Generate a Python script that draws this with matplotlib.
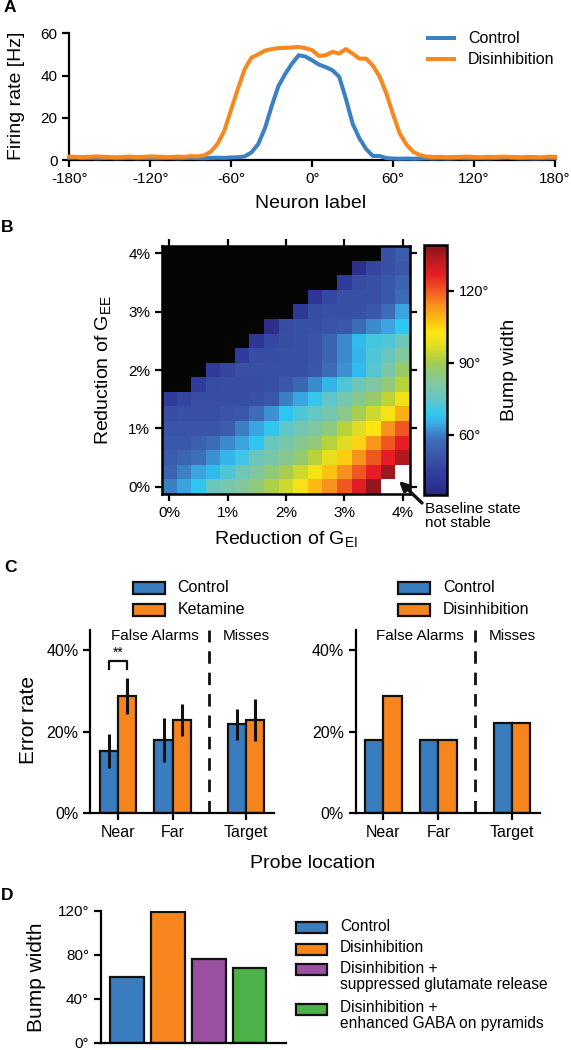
import numpy as np
import matplotlib
matplotlib.use("Agg")
import matplotlib.pyplot as plt
from matplotlib.colors import LinearSegmentedColormap
from matplotlib.patches import Rectangle
from matplotlib.lines import Line2D

plt.rcParams['font.family'] = ['Liberation Sans', 'DejaVu Sans']
plt.rcParams['mathtext.fontset'] = 'custom'
plt.rcParams['mathtext.rm'] = 'Liberation Sans'
plt.rcParams['axes.linewidth'] = 1.6
for a in ('xtick', 'ytick'):
    plt.rcParams[a + '.major.width'] = 1.6
    plt.rcParams[a + '.major.size'] = 5
    plt.rcParams[a + '.labelsize'] = 10.5

# ---------------- data ----------------
# Panel A: firing rate profiles (Hz) sampled every 5 degrees
neuron_deg = list(range(-180, 181, 5))
rate_control = [1.0, 1.1, 0.9, 1.0, 0.8, 0.9, 1.0, 0.8, 0.9, 1.0, 0.8, 0.9, 0.9,
                0.8, 0.9, 1.0, 0.8, 0.9, 1.0, 0.9, 0.8, 1.0, 1.1, 1.0, 1.2, 1.3,
                1.7, 3.6, 7.5, 15.0, 25.5, 35.0, 40.7, 45.6, 49.6, 49.0, 47.2,
                45.2, 44.0, 42.5, 39.5, 29.0, 17.2, 10.3, 5.2, 1.9, 1.9, 0.9,
                0.7, 0.6, 0.7, 0.6, 0.7, 0.8, 0.7, 0.8, 0.7, 0.8, 0.9, 0.8, 0.8,
                0.9, 0.8, 0.9, 1.0, 1.1, 0.9, 0.8, 0.8, 0.7, 0.8, 0.8, 0.9]
rate_disinh = [1.6, 1.5, 1.4, 1.5, 1.7, 1.5, 1.4, 1.3, 1.5, 1.6, 1.4, 1.5, 1.7,
               1.6, 1.5, 1.4, 1.6, 1.5, 1.8, 1.7,
               2.2, 4.0, 7.8, 14.0, 24.0, 33.8, 43.0, 48.5, 50.0, 51.8,
               52.5, 53.0, 53.1, 53.3, 53.5, 53.0, 52.0, 49.3, 49.6, 51.2,
               50.4, 52.5, 50.4, 48.0, 48.0, 44.7, 39.5, 31.5, 21.5, 12.5,
               7.2, 3.8, 2.3, 1.6,
               1.4, 1.5, 1.3, 1.4, 1.5, 1.6, 1.4, 1.3, 1.5, 1.4, 1.6, 1.5,
               1.4, 1.3, 1.5, 1.4, 1.3, 1.6, 1.5]
a_xticks = [-180, -120, -60, 0, 60, 120, 180]
a_yticks = [0, 20, 40, 60]

# Panel B: bump width (deg); rows = reduction of G_EE 0%..4%, cols = reduction of G_EI 0%..4%
# 0 = no bump (black), nan = baseline state not stable (white)
nan = np.nan
bump_grid = [
    [60, 64, 68, 76, 79, 82, 86, 91, 95, 101, 108, 114, 120, 128, 137, nan, nan],
    [55, 60, 64, 67, 72, 77, 81, 86, 90, 95, 101, 107, 114, 120, 127, 136, nan],
    [53, 55, 58, 62, 66, 70, 77, 80, 83, 87, 92, 98, 106, 114, 120, 127, 134],
    [52, 52, 54, 57, 61, 64, 68, 76, 79, 83, 86, 92, 97, 105, 113, 120, 127],
    [51, 51, 51, 51, 53, 60, 64, 68, 74, 78, 81, 85, 92, 97, 103, 114, 120],
    [49, 50, 50, 50, 51, 52, 57, 62, 68, 72, 75, 79, 84, 90, 95, 101, 110],
    [43, 46, 49, 49, 49, 49, 50, 52, 60, 64, 69, 74, 79, 83, 88, 93, 100],
    [0, 0, 43, 48, 49, 49, 49, 50, 52, 56, 61, 66, 72, 77, 81, 86, 92],
    [0, 0, 0, 43, 46, 50, 50, 50, 50, 50, 52, 57, 62, 67, 73, 80, 88],
    [0, 0, 0, 0, 0, 43, 48, 49, 50, 50, 51, 55, 61, 66, 72, 76, 82],
    [0, 0, 0, 0, 0, 0, 41, 47, 49, 50, 51, 55, 61, 67, 71, 72, 77],
    [0, 0, 0, 0, 0, 0, 0, 38, 48, 50, 50, 51, 52, 57, 61, 64, 68],
    [0, 0, 0, 0, 0, 0, 0, 0, 0, 42, 49, 50, 50, 50, 52, 57, 64],
    [0, 0, 0, 0, 0, 0, 0, 0, 0, 0, 41, 47, 50, 50, 50, 52, 57],
    [0, 0, 0, 0, 0, 0, 0, 0, 0, 0, 0, 0, 43, 48, 50, 52, 55],
    [0, 0, 0, 0, 0, 0, 0, 0, 0, 0, 0, 0, 0, 38, 46, 50, 52],
    [0, 0, 0, 0, 0, 0, 0, 0, 0, 0, 0, 0, 0, 0, 0, 50, 53],
]
b_ticks = [0, 1, 2, 3, 4]
b_ticklabels = ['0%', '1%', '2%', '3%', '4%']
cb_ticks = [60, 90, 120]

# Panel C
probe_cats = ['Near', 'Far', 'Target']
exp_control = [15.2, 18.0, 21.8]
exp_control_err = [4.2, 5.4, 3.8]
exp_ketamine = [28.8, 22.8, 22.8]
exp_ketamine_err = [4.5, 3.9, 5.2]
model_control = [18.0, 18.0, 22.0]
model_disinh = [28.7, 18.0, 22.0]
c_yticks = [0, 20, 40]

# Panel D
d_labels = ['Control', 'Disinhibition', 'Disinhibition +\nsuppressed glutamate release',
            'Disinhibition +\nenhanced GABA on pyramids']
d_values = [60.2, 119.0, 76.4, 67.7]
d_yticks = [0, 40, 80, 120]

# ---------------- styling ----------------
BLUE = '#3a7dbf'
ORANGE = '#f7851e'
PURPLE = '#9a52a0'
GREEN = '#4db14a'
LBLUE = '#3a80c2'
LORANGE = '#f7871f'
LABEL_FS = 14

W, H = 571, 1050
fig = plt.figure(figsize=(W / 100, H / 100), dpi=100)


def rect(l, t, r, b):
    return [l / W, 1 - b / H, (r - l) / W, (b - t) / H]


def fx(x):
    return x / W


def fy(y):
    return 1 - y / H


def style_axes(ax):
    ax.spines['top'].set_visible(False)
    ax.spines['right'].set_visible(False)
    ax.tick_params(direction='out')


# ---------------- Panel A ----------------
axA = fig.add_axes(rect(69.3, 33.3, 555, 160))
axA.plot(neuron_deg, rate_control, color=LBLUE, lw=2.9, clip_on=False, zorder=3)
axA.plot(neuron_deg, rate_disinh, color=LORANGE, lw=2.9, clip_on=False, zorder=3)
axA.set_xlim(-180, 180)
axA.set_ylim(0, 60)
axA.set_xticks(a_xticks)
axA.set_xticklabels([f'{v}\u00b0' for v in a_xticks])
axA.set_yticks(a_yticks)
axA.tick_params(labelsize=11)
style_axes(axA)
fig.text(fx(16.5), fy(96), 'Firing rate [Hz]', rotation=90, ha='center', va='center', fontsize=LABEL_FS)
fig.text(fx(311), fy(204), 'Neuron label', ha='center', va='center', fontsize=LABEL_FS)
for yy, col, lab in [(38.3, LBLUE, 'Control'), (59.3, LORANGE, 'Disinhibition')]:
    fig.add_artist(Line2D([fx(428), fx(454)], [fy(yy), fy(yy)], color=col, lw=2.9,
                          transform=fig.transFigure))
    fig.text(fx(468), fy(yy), lab, ha='left', va='center', fontsize=11.5)

# ---------------- Panel B ----------------
anchors = [(35, '#29297f'), (42, '#2f3a9a'), (50, '#3a52a6'), (58, '#3d70b8'),
           (64, '#3ba4e0'), (68, '#2ec6f2'), (75, '#66c6c4'), (82, '#84c89c'),
           (88, '#98ca68'), (92, '#b8d23c'), (98, '#e6df1e'), (103, '#ffe612'),
           (108, '#fcbd12'), (114, '#f7941d'), (120, '#f05a22'), (127, '#e81e26'),
           (133, '#b81c22'), (139, '#86141a')]
vmin, vmax = 35, 139
cmap = LinearSegmentedColormap.from_list(
    'bump', [((v - vmin) / (vmax - vmin), c) for v, c in anchors])
cmap.set_under('#050505')
cmap.set_bad('white')

axB = fig.add_axes(rect(162, 246, 410, 494))
grid = np.ma.masked_invalid(np.array(bump_grid, dtype=float))
im = axB.imshow(grid, origin='lower', cmap=cmap, vmin=vmin, vmax=vmax,
                extent=(-0.125, 4.125, -0.125, 4.125), interpolation='nearest', aspect='auto')
axB.set_xticks(b_ticks)
axB.set_xticklabels(b_ticklabels)
axB.set_yticks(b_ticks)
axB.set_yticklabels(b_ticklabels)
axB.tick_params(direction='out', top=True, right=True, labeltop=False, labelright=False,
                labelsize=11)
for s in axB.spines.values():
    s.set_linewidth(1.8)

cax = fig.add_axes(rect(424.3, 245.3, 446.7, 494.7))
cb = fig.colorbar(im, cax=cax, ticks=cb_ticks)
cb.ax.set_yticklabels([f'{v}\u00b0' for v in cb_ticks])
cb.outline.set_linewidth(1.8)
cb.ax.tick_params(direction='out', length=5, width=1.6, labelsize=10.5)
fig.text(fx(510), fy(370), 'Bump width', rotation=90, ha='center', va='center', fontsize=LABEL_FS)
fig.text(fx(104), fy(370), 'Reduction of G$_{\\mathregular{EE}}$', rotation=90,
         ha='center', va='center', fontsize=LABEL_FS)
fig.text(fx(286), fy(540), 'Reduction of G$_{\\mathregular{EI}}$',
         ha='center', va='center', fontsize=LABEL_FS)
fig.text(fx(425), fy(502), 'Baseline state\nnot stable', ha='left', va='top',
         fontsize=11, linespacing=1.0)
axB.annotate('', xy=(fx(399), fy(481)), xytext=(fx(422), fy(503)),
             xycoords='figure fraction', textcoords='figure fraction',
             arrowprops=dict(arrowstyle='-|>', lw=2.4, color='#111111', mutation_scale=14,
                             shrinkA=0, shrinkB=0), annotation_clip=False)

# ---------------- Panel C ----------------
group_x = np.array([0, 3, 7])


def panel_c(ax, ctrl, other, ctrl_err=None, other_err=None):
    ekw = dict(ecolor='#111111', elinewidth=2.2, capsize=0)
    ax.bar(group_x - 0.5, ctrl, width=1, color=BLUE, edgecolor='#111111', lw=1.6,
           yerr=ctrl_err, error_kw=ekw, zorder=2)
    ax.bar(group_x + 0.5, other, width=1, color=ORANGE, edgecolor='#111111', lw=1.6,
           yerr=other_err, error_kw=ekw, zorder=2)
    ax.axvline(5, color='#111111', lw=2.0, ls=(0, (4.5, 3.2)))
    ax.text(2.0, 43.6, 'False Alarms', ha='center', va='center', fontsize=11)
    ax.text(7.0, 43.6, 'Misses', ha='center', va='center', fontsize=11)
    ax.set_xlim(-1.5, 8.52)
    ax.set_ylim(0, 45)
    ax.set_xticks(group_x)
    ax.set_xticklabels(probe_cats)
    ax.set_yticks(c_yticks)
    ax.set_yticklabels([f'{v}%' for v in c_yticks])
    ax.tick_params(labelsize=11.5)
    style_axes(ax)


axC1 = fig.add_axes(rect(90.4, 630, 273.8, 812.7))
panel_c(axC1, exp_control, exp_ketamine, exp_control_err, exp_ketamine_err)
axC1.plot([-0.5, -0.5, 0.5, 0.5], [35.4, 37.3, 37.3, 35.4], color='#111111', lw=1.6)
axC1.text(0, 39.3, '**', ha='center', va='center', fontsize=10)

axC2 = fig.add_axes(rect(355.8, 630, 539.9, 812.7))
panel_c(axC2, model_control, model_disinh)

fig.text(fx(28.5), fy(720), 'Error rate', rotation=90, ha='center', va='center', fontsize=15)
fig.text(fx(313), fy(863), 'Probe location', ha='center', va='center', fontsize=LABEL_FS)


def box_legend(x0, x1, ys, cols, labels, tx, h=11.5):
    for yy, col, lab in zip(ys, cols, labels):
        fig.add_artist(Rectangle((fx(x0), fy(yy + h / 2)), (x1 - x0) / W, h / H,
                                 facecolor=col, edgecolor='#111111', lw=1.6,
                                 transform=fig.transFigure))
        fig.text(fx(tx), fy(yy), lab, ha='left', va='center', fontsize=11.5)


box_legend(133, 165, [588, 610], [BLUE, ORANGE], ['Control', 'Ketamine'], 177.5)
box_legend(398, 430, [588, 610], [BLUE, ORANGE], ['Control', 'Disinhibition'], 443)

# ---------------- Panel D ----------------
d_colors = [BLUE, ORANGE, PURPLE, GREEN]
axD = fig.add_axes(rect(100.7, 910.7, 285.5, 1043))
axD.bar(np.arange(len(d_values)), d_values, width=0.81, color=d_colors,
        edgecolor='#111111', lw=1.6)
axD.set_xlim(-0.643, 3.87)
axD.set_ylim(0, 120)
axD.set_yticks(d_yticks)
axD.set_yticklabels([f'{v}\u00b0' for v in d_yticks])
axD.tick_params(labelsize=11)
style_axes(axD)
axD.tick_params(axis='x', bottom=False, labelbottom=False)
fig.text(fx(36.6), fy(977), 'Bump width', rotation=90, ha='center', va='center', fontsize=15)

for yy, col, lab in zip([927.3, 949, 969.5, 1009], d_colors, d_labels):
    h = 11
    fig.add_artist(Rectangle((fx(296), fy(yy + h / 2)), 31 / W, h / H,
                             facecolor=col, edgecolor='#111111', lw=1.6,
                             transform=fig.transFigure))
    fig.text(fx(340), fy(yy - 8.5), lab, ha='left', va='top', fontsize=11.2, linespacing=1.08)

# panel letters
for lab, x, y in [('A', 10, 8), ('B', 7.5, 227), ('C', 10.5, 567), ('D', 7, 895)]:
    fig.text(fx(x), fy(y), lab, ha='center', va='center', fontsize=12.5, fontweight='bold')

fig.savefig('out.png', dpi=100)
